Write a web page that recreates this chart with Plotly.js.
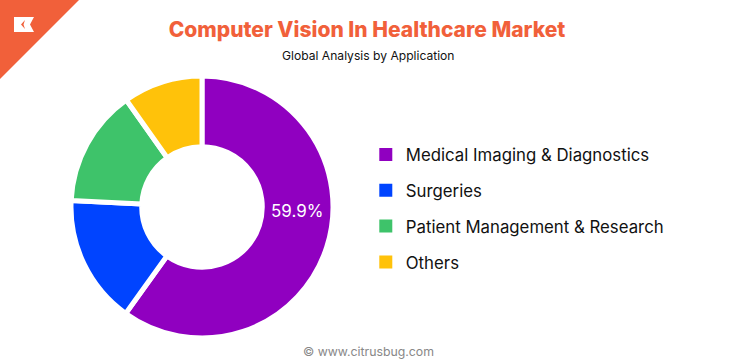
<!DOCTYPE html>
<html>
<head>
<meta charset="utf-8">
<script src="https://cdn.plot.ly/plotly-3.0.1.min.js"></script>
<style>html,body{margin:0;padding:0;background:#fff;}#chart{width:736px;height:364px;}</style>
</head>
<body>
<div id="chart"></div>
<script>
const labels = ["Medical Imaging & Diagnostics", "Surgeries", "Patient Management & Research", "Others"];
const values = [59.9, 15.9, 14.4, 9.8];
const colors = ["#9000C0", "#0044FF", "#3EC36A", "#FFC20A"];
const titleText = "Computer Vision In Healthcare Market";
const subtitleText = "Global Analysis by Application";
const footerText = "© www.citrusbug.com";

const FONT = "Inter, 'Open Sans', sans-serif";
const ORANGE = "#F1603A";

const pie = {
  type: "pie",
  labels: labels,
  values: values,
  marker: {colors: colors, line: {color: "#ffffff", width: 5}},
  hole: 0.46,
  sort: false,
  direction: "clockwise",
  rotation: 0,
  textinfo: "none",
  hoverinfo: "none",
  showlegend: false,
  domain: {x: [71/736, 333/736], y: [1 - 338/364, 1 - 76/364]}
};

const legendTraces = labels.map((l, i) => ({
  type: "scatter",
  mode: "markers",
  x: [null], y: [null],
  name: l,
  legendgroup: "g" + i,
  marker: {symbol: "square", size: 13, color: colors[i]},
  hoverinfo: "none"
}));

const layout = {
  width: 736, height: 364,
  margin: {l: 0, r: 0, t: 0, b: 0},
  paper_bgcolor: "#ffffff",
  plot_bgcolor: "rgba(0,0,0,0)",
  xaxis: {visible: false, domain: [0.9, 1]},
  yaxis: {visible: false, domain: [0.9, 1]},
  font: {family: FONT, color: "#111111"},
  title: {
    text: titleText,
    font: {family: FONT, size: 21, weight: 800, color: ORANGE},
    x: 367/736, xanchor: "center",
    y: 1 - 30/364, yanchor: "middle"
  },
  showlegend: true,
  legend: {
    x: 0.497, xanchor: "left",
    y: 1 - 137/364, yanchor: "top",
    traceorder: "grouped",
    tracegroupgap: 11,
    font: {family: FONT, size: 16.8, color: "#111111"},
    bgcolor: "rgba(0,0,0,0)",
    itemclick: false
  },
  annotations: [
    {text: subtitleText, xref: "paper", yref: "paper", x: 368/736, y: 1 - 55/364,
     xanchor: "center", yanchor: "middle", showarrow: false,
     font: {family: FONT, size: 12.1, color: "#111111"}},
    {text: values[0].toFixed(1) + "%", xref: "paper", yref: "paper", x: 297/736, y: 1 - 211/364,
     xanchor: "center", yanchor: "middle", showarrow: false,
     font: {family: FONT, size: 17, color: "#ffffff"}},
    {text: footerText, xref: "paper", yref: "paper", x: 368/736, y: 1 - 351/364,
     xanchor: "center", yanchor: "middle", showarrow: false,
     font: {family: FONT, size: 12.3, color: "#888888"}}
  ],
  shapes: [
    {type: "path", xref: "paper", yref: "paper", layer: "above",
     path: "M0,1 L" + (79/736) + ",1 L0," + (1 - 79/364) + " Z",
     fillcolor: ORANGE, line: {width: 0}},
    {type: "path", xref: "paper", yref: "paper", layer: "above",
     path: "M" + (14/736) + "," + (1 - 17/364) + " L" + (34/736) + "," + (1 - 17/364) +
           " L" + (30/736) + "," + (1 - 24.5/364) + " L" + (34/736) + "," + (1 - 32/364) +
           " L" + (14/736) + "," + (1 - 32/364) + " Z",
     fillcolor: "#ffffff", line: {width: 0}},
    {type: "path", xref: "paper", yref: "paper", layer: "above",
     path: "M" + (25/736) + "," + (1 - 20/364) + " L" + (21/736) + "," + (1 - 24.5/364) +
           " L" + (25/736) + "," + (1 - 29/364) + " L" + (23.5/736) + "," + (1 - 24.5/364) + " Z",
     fillcolor: ORANGE, line: {width: 0}}
  ]
};

Plotly.newPlot("chart", [pie].concat(legendTraces), layout, {displayModeBar: false, staticPlot: true});
</script>
</body>
</html>
